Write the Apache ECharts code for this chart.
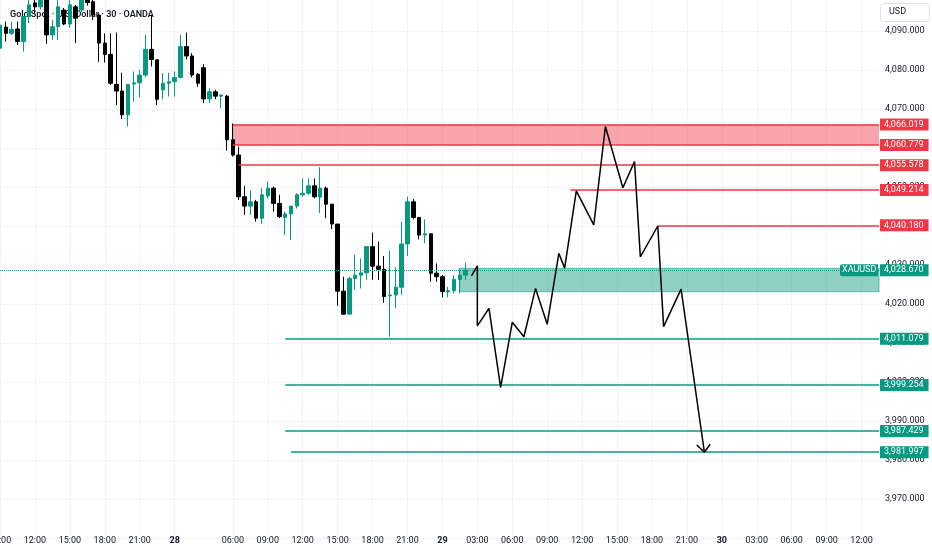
<!DOCTYPE html>
<html><head><meta charset="utf-8">
<script src="https://cdn.jsdelivr.net/npm/echarts@6/dist/echarts.min.js"></script>
<style>html,body{margin:0;padding:0;background:#fff}#c{width:932px;height:550px}</style>
</head><body><div id="c"></div>
<script>
// ---- time axis (30-minute bars) ----
const sessionDays  = [27, 28, 29, 30];
const sessionStart = ['09:00', '00:00', '00:00', '00:00'];
const sessionEnd   = ['23:30', '23:30', '23:30', '13:30'];
const closedSlots  = ['28 01:00', '28 01:30'];
const hiddenLabels = ['28 03:00'];

// ---- candles (index 0 = 27 09:00) ----
const candleOpen  = [4085.6,4091.0,4089.4,4090.5,4087.3,4093.7,4097.2,4096.2,4099.0,4089.0,4091.1,4095.4,4091.8,4096.2,4095.4,4099.5,4097.5,4094.1,4086.9,4084.0,4076.3,4074.6,4068.5,4076.4,4076.7,4078.7,4085.3,4082.6,4074.9,4076.6,4077.0,4078.1,4086.0,4083.6,4078.9,4080.6,4072.6,4074.4,4073.3,4073.3,4062.1,4058.2,4047.5,4045.1,4046.2,4042.0,4047.7,4049.7,4045.8,4042.2,4043.1,4045.1,4048.0,4048.4,4050.3,4047.4,4049.7,4045.6,4040.5,4023.3,4017.4,4026.5,4027.4,4028.0,4034.7,4029.7,4028.9,4022.1,4022.3,4024.3,4035.4,4046.2,4042.2,4037.7,4038.0,4027.9,4027.0,4023.1,4023.4,4026.3,4027.4];
const candleClose = [4091.5,4089.4,4090.4,4087.3,4093.7,4096.7,4096.2,4099.5,4089.0,4091.1,4096.2,4091.8,4096.7,4093.3,4098.5,4097.3,4094.1,4086.9,4084.0,4076.6,4074.6,4068.5,4076.3,4076.7,4078.7,4085.3,4082.7,4072.5,4076.6,4077.0,4078.1,4086.0,4083.6,4078.7,4076.6,4072.6,4074.4,4073.3,4073.6,4062.1,4058.2,4047.5,4045.1,4046.2,4042.0,4048.0,4049.7,4045.8,4042.4,4043.1,4045.1,4048.0,4048.4,4050.3,4047.5,4049.7,4045.6,4040.5,4023.3,4017.4,4026.5,4027.4,4028.0,4034.7,4029.7,4028.9,4021.9,4022.3,4024.3,4035.4,4046.2,4042.2,4037.7,4038.0,4027.9,4027.0,4023.2,4023.4,4026.3,4027.4,4028.67];
const candleLow   = [4085.1,4087.3,4089.0,4086.4,4084.7,4092.0,4094.5,4095.5,4086.7,4087.7,4087.7,4091.5,4090.8,4086.9,4094.9,4096.5,4092.8,4082.1,4081.9,4076.2,4071.0,4067.4,4065.5,4071.9,4073.0,4078.1,4080.9,4071.0,4072.5,4073.2,4073.2,4077.9,4082.7,4078.1,4075.7,4071.5,4071.5,4072.5,4070.2,4059.3,4057.8,4046.7,4042.8,4042.8,4041.1,4040.5,4047.1,4043.7,4042.0,4037.7,4036.4,4044.5,4047.5,4048.0,4047.1,4043.3,4042.0,4039.2,4019.5,4017.2,4017.4,4023.6,4024.0,4026.2,4026.2,4026.2,4020.3,4011.6,4018.9,4022.3,4032.3,4041.7,4036.6,4035.6,4025.7,4025.7,4021.7,4021.7,4022.7,4022.7,4026.2];
const candleHigh  = [4092.3,4092.4,4092.4,4092.4,4093.7,4098.5,4099.0,4101.0,4100.0,4092.8,4097.9,4095.9,4097.9,4096.7,4100.0,4101.0,4099.0,4094.5,4089.4,4089.4,4089.6,4079.3,4076.3,4079.6,4080.0,4089.0,4094.1,4082.6,4079.2,4079.3,4079.6,4089.0,4089.6,4084.3,4079.2,4081.5,4075.3,4074.9,4073.6,4073.6,4066.3,4060.3,4050.3,4049.2,4046.7,4049.7,4051.4,4050.1,4048.0,4043.7,4045.1,4048.4,4052.2,4052.2,4052.2,4055.1,4050.1,4045.6,4040.5,4027.0,4027.0,4032.6,4031.7,4034.7,4038.3,4036.0,4032.3,4033.7,4029.4,4041.1,4047.5,4046.9,4042.2,4041.7,4038.0,4030.4,4027.4,4024.4,4027.4,4029.2,4030.6];

// ---- projected path (bar index, price) ----
const pathBar   = [81, 82, 82, 84, 86, 88, 90, 92, 94, 96, 97, 99, 102, 104, 107, 109, 110, 113, 114, 117, 121];
const pathPrice = [4027.2,4029.8,4014.4,4018.9,3998.6,4015.3,4011.6,4024.0,4014.8,4033.0,4029.2,4049.0,4040.3,4065.5,4049.8,4056.5,4032.1,4040.0,4014.2,4023.8,3982.0];
const arrowBar   = [119.7, 121, 122];
const arrowPrice = [3983.85, 3981.98, 3984.03];

// ---- levels ----
const redLevels   = [4066.019, 4060.779, 4055.578, 4049.214, 4040.180];
const redStarts   = [40, 40, 41, 98, 113];
const greenLevels = [4011.079, 3999.254, 3987.429, 3981.997];
const greenStarts = [49, 49, 49, 50];
const redZone   = [40, 4066.019, 4060.779];
const greenZone = [79, 4029.15, 4023.15];
const lastPrice = 4028.670;
const yTicks = [3960, 4100, 10];

// ---- build categories ----
function toMin(s){const p=s.split(':');return +p[0]*60+ +p[1];}
function pad(n){return (n<10?'0':'')+n;}
const categories = [];
sessionDays.forEach((d,k)=>{
  for(let m=toMin(sessionStart[k]); m<=toMin(sessionEnd[k]); m+=30){
    const c = d+' '+pad(Math.floor(m/60))+':'+pad(m%60);
    if(closedSlots.indexOf(c)<0) categories.push(c);
  }
});
const lastIdx = categories.length-1;
function showTick(i){
  const c = categories[i]; if(!c) return false;
  const t = c.split(' ')[1]; const h=+t.split(':')[0], mm=+t.split(':')[1];
  return mm===0 && h%3===0 && hiddenLabels.indexOf(c)<0;
}
function fmtPrice(v){return v.toLocaleString('en-US',{minimumFractionDigits:3,maximumFractionDigits:3});}

const RED='#f23645', TEAL='#089981';
const FONT='Roboto, sans-serif';
function tagLabel(v,color){
  return {show:true,position:'end',distance:1,formatter:fmtPrice(v),backgroundColor:color,color:'#fff',
    fontSize:9,fontFamily:FONT,lineHeight:10,padding:[1,5,1,4]};
}
function level(v,x0,color){
  return [{coord:[x0,v],lineStyle:{color:color,width:1.5,type:'solid'},label:tagLabel(v,color)},{coord:[lastIdx,v]}];
}
const lineData=[];
redLevels.forEach((v,i)=>lineData.push(level(v,redStarts[i],RED)));
greenLevels.forEach((v,i)=>lineData.push(level(v,greenStarts[i],TEAL)));
lineData.push([{coord:[0,lastPrice],lineStyle:{color:TEAL,width:1,type:'dotted'},label:tagLabel(lastPrice,TEAL)},{coord:[lastIdx,lastPrice]}]);

const chart = echarts.init(document.getElementById('c'));
chart.setOption({
  animation:false,
  backgroundColor:'#ffffff',
  textStyle:{fontFamily:FONT},
  title:{text:'Gold Spot · U.S. Dollar · 30 · OANDA',left:5,top:5,z:0,
    textStyle:{fontSize:9,fontWeight:600,color:'#131722',fontFamily:FONT}},
  grid:{left:0,right:53,top:-8,bottom:12,containLabel:false,outerBoundsMode:'none'},
  xAxis:[{
    type:'category',data:categories,boundaryGap:false,
    axisLine:{show:false,onZero:false},axisTick:{show:false},
    axisLabel:{interval:(i)=>showTick(i),margin:3,verticalAlign:'middle',fontSize:9,color:'#131722',
      formatter:(val)=>{const t=val.split(' ')[1];return t==='00:00'?'{b|'+val.split(' ')[0]+'}':t;},
      rich:{b:{fontWeight:'bold',fontSize:9,color:'#131722'}}},
    splitLine:{show:true,interval:(i)=>showTick(i),lineStyle:{color:'#f0f3fa',width:1}}
  },{
    type:'value',min:0,max:lastIdx,show:false
  }],
  yAxis:{type:'value',position:'right',min:yTicks[0],max:yTicks[1],interval:yTicks[2],scale:true,
    axisLine:{show:false},axisTick:{show:false},
    axisLabel:{margin:6,fontSize:9,color:'#131722',
      formatter:(v)=>(v<=yTicks[0]||v>=yTicks[1])?'':fmtPrice(v)},
    splitLine:{lineStyle:{color:'#f0f3fa',width:1}}},
  series:[
    {type:'line',name:'levels',xAxisIndex:1,yAxisIndex:0,data:[],z:1,clip:false,silent:true,
      markArea:{silent:true,data:[
        [{coord:[redZone[0],redZone[1]],itemStyle:{color:'rgba(242,54,69,0.45)'}},{coord:[lastIdx,redZone[2]]}],
        [{coord:[greenZone[0],greenZone[1]],itemStyle:{color:'rgba(8,153,129,0.45)',borderColor:'rgba(8,153,129,0.55)',borderWidth:1}},{coord:[lastIdx,greenZone[2]]}]
      ]},
      markLine:{silent:true,symbol:['none','none'],data:lineData}
    },
    {type:'candlestick',name:'XAUUSD',xAxisIndex:0,yAxisIndex:0,z:3,barWidth:4,
      data:candleOpen.map((o,i)=>[o,candleClose[i],candleLow[i],candleHigh[i]]),
      itemStyle:{color:TEAL,color0:'#000000',borderColor:TEAL,borderColor0:'#000000',borderWidth:1}},
    {type:'line',name:'path',xAxisIndex:1,yAxisIndex:0,z:5,symbol:'none',
      data:pathBar.map((b,i)=>[b,pathPrice[i]]),lineStyle:{color:'#000',width:1.5}},
    {type:'line',name:'arrow',xAxisIndex:1,yAxisIndex:0,z:5,symbol:'none',
      data:arrowBar.map((b,i)=>[b,arrowPrice[i]]),lineStyle:{color:'#000',width:1.5}}
  ]
});
const py = chart.convertToPixel({yAxisIndex:0}, lastPrice);
chart.setOption({graphic:[
  {type:'rect',left:880,top:3,shape:{width:49,height:18,r:3},style:{fill:'#fff',stroke:'#e0e3eb',lineWidth:1},z:10},
  {type:'text',left:889,top:7,style:{text:'USD',fontSize:9,fill:'#131722',fontFamily:FONT},z:11},
  {type:'rect',left:840,top:py-6,shape:{width:38,height:12,r:[2,0,0,2]},style:{fill:TEAL},z:10},
  {type:'text',left:842,top:py-4.5,style:{text:'XAUUSD',fontSize:9,fill:'#fff',fontFamily:FONT},z:11}
]});
</script></body></html>
